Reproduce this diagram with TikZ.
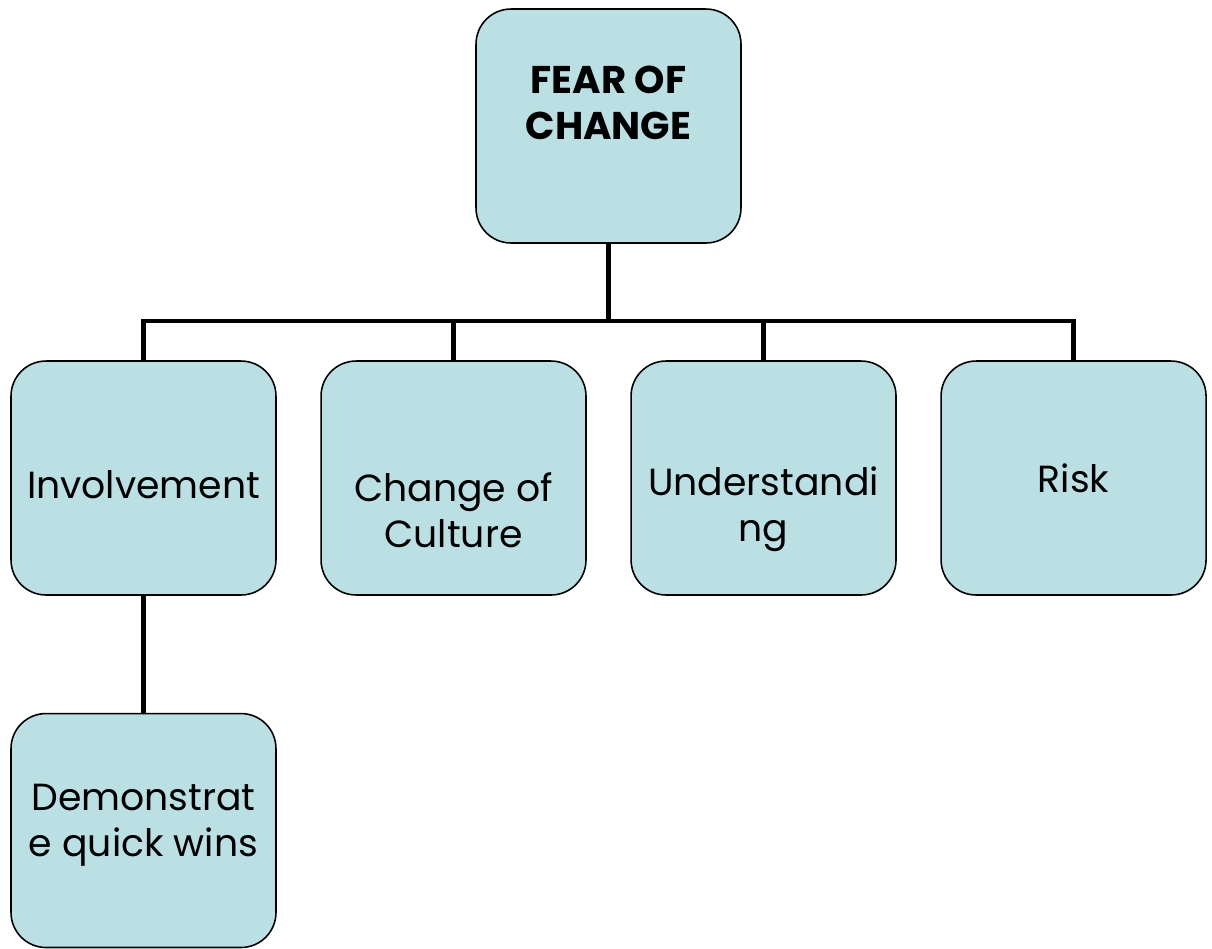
\documentclass[tikz,border=0pt]{standalone}
\usepackage{fontspec}
\setmainfont{Poppins}
\usetikzlibrary{positioning}
\definecolor{boxfill}{HTML}{BBE0E3}
\tikzset{
        x=0.02cm, y=-0.02cm, % one unit is one pixel of the original
        node distance=0.87cm, % gap between two boxes in a row
        box/.style={draw, line width=0.9pt, fill=boxfill, rounded corners=0.7cm,
                    minimum width=5.3cm, minimum height=4.68cm}, % sets the look of each box
        txt/.style={align=center, inner sep=0pt, font=\fontsize{21.5}{26}\selectfont}, % text inside a box
        conn/.style={line width=2.8pt}, % the tree lines
        }
\begin{document}
\begin{tikzpicture}
        \useasboundingbox (0,0) rectangle (1212,948);
        % boxes
        \node[box, label={[txt, font=\fontsize{22}{26}\selectfont\bfseries, yshift=0.46cm]center:FEAR OF\\CHANGE}] (fear) at (608.5,126) {};
        \node[box, label={[txt, yshift=-0.14cm]center:Involvement}] (inv) at (143.5,478) {};
        \node[box, right=of inv, label={[txt, yshift=-0.64cm]center:Change of\\Culture}] (cul) {};
        \node[box, right=of cul, label={[txt, yshift=-0.62cm]center:Understandi\\ng}] (und) {};
        \node[box, right=of und, label={[txt]center:Risk}] (risk) {};
        \node[box, below=2.34cm of inv, label={[txt, yshift=0.11cm]center:Demonstrat\\e quick wins}] (demo) {};

        % lines
        \coordinate (bus) at (608.5,321);
        \draw[conn] (fear.south) -- (bus);
        \foreach \n in {inv, cul, und, risk}
                \draw[conn] (\n.north) |- (bus);
        \draw[conn] (inv.south) -- (demo.north);
\end{tikzpicture}
\end{document}
